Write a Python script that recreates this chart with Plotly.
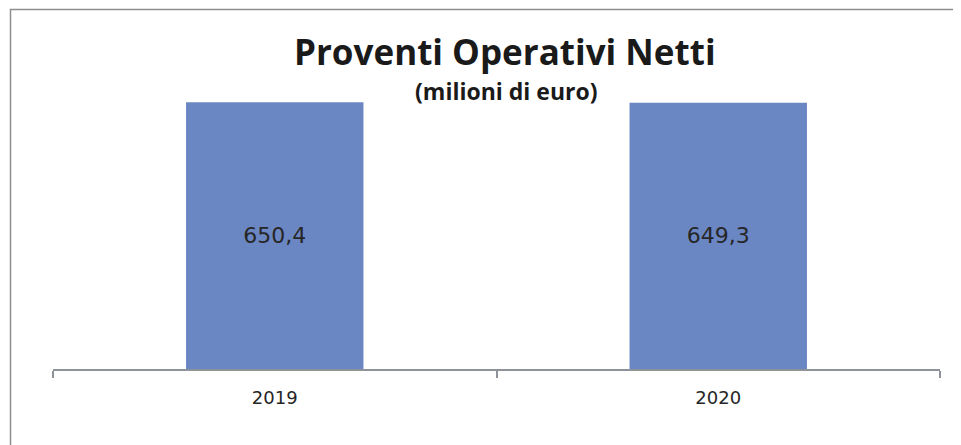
import plotly.graph_objects as go

categories = ["2019", "2020"]
values = [650.4, 649.3]
title_text = "Proventi Operativi Netti"
subtitle_text = "(milioni di euro)"

W, H = 961, 445
OFF = 8  # page body margin offset
# desired screen positions of the plot area
left_px, right_px, top_px, axis_px = 53, 940, 82, 369
ml = left_px - OFF
mr = W - (right_px - OFF)
mt = top_px - OFF
mb = H - (axis_px - OFF)
pw = W - ml - mr
ph = H - mt - mb

def px_x(x):
    return (x - left_px) / pw

def px_y(y):
    return (axis_px - y) / ph

fig = go.Figure(go.Bar(
    x=categories,
    y=values,
    width=0.4,
    marker=dict(color="#6B87C3", line=dict(width=0)),
    texttemplate="%{y:.1f}",
    textposition="inside",
    insidetextanchor="middle",
    textfont=dict(family="DejaVu Sans", size=22, color="#262626"),
    hoverinfo="skip",
))

fig.update_layout(
    width=W, height=H,
    margin=dict(l=ml, r=mr, t=mt, b=mb),
    paper_bgcolor="white",
    plot_bgcolor="white",
    separators=",.",
    showlegend=False,
    xaxis=dict(
        type="category",
        showline=True, linecolor="#8E939B", linewidth=1.5,
        ticks="outside", tickson="boundaries", ticklen=7, tickcolor="#8E939B", tickwidth=1.5,
        tickfont=dict(family="DejaVu Sans", size=18, color="#262626"),
        showgrid=False, zeroline=False,
        ticklabelstandoff=12,
    ),
    yaxis=dict(range=[0, 700], visible=False, showgrid=False, zeroline=False),
    annotations=[
        dict(text="<b>" + title_text + "</b>", x=px_x(505), y=px_y(52), xref="paper", yref="paper",
             xanchor="center", yanchor="middle", showarrow=False,
             font=dict(family="Open Sans", size=35, color="#1a1a1a")),
        dict(text="<b>" + subtitle_text + "</b>", x=px_x(506), y=px_y(91), xref="paper", yref="paper",
             xanchor="center", yanchor="middle", showarrow=False,
             font=dict(family="Open Sans", size=23, color="#1a1a1a")),
    ],
    shapes=[
        dict(type="rect", xref="paper", yref="paper",
             x0=px_x(10.5), x1=px_x(975), y0=px_y(460), y1=px_y(9.5),
             line=dict(color="#8F8F8F", width=1.5), fillcolor="rgba(0,0,0,0)", layer="above"),
    ],
)

fig.write_html("out.html")
